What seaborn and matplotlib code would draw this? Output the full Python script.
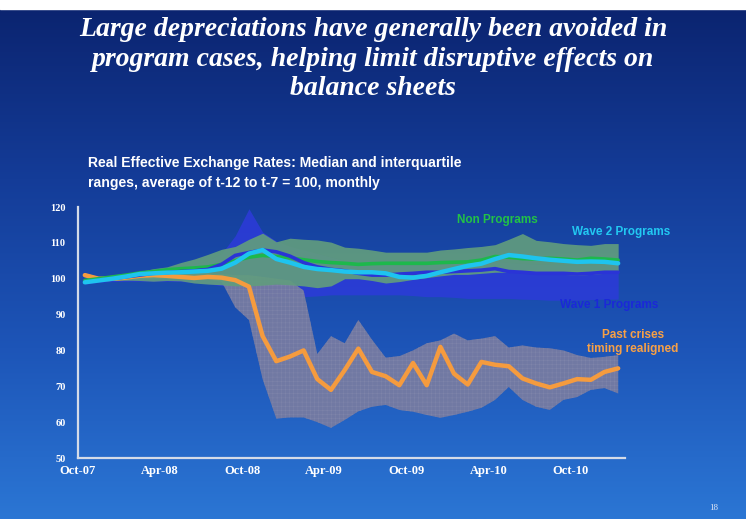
import numpy as np
import seaborn as sns
from matplotlib import pyplot as plt
from matplotlib.colors import LinearSegmentedColormap

# REER, average of t-12 to t-7 = 100, monthly from Oct-07
past_med = [101, 100, 100, 100.3, 100.8, 101, 100.8, 100.5, 100.2, 100.5, 100.3, 99.6, 97.8, 84, 77, 78.3, 80, 72,
            69, 74.5, 80.5, 74, 72.8, 70.3, 76.5, 70.3, 81, 73.5, 70.5, 76.8, 76, 75.6, 72.2, 70.8, 69.7, 70.8,
            72, 71.8, 74, 75]
past_hi = [101.5, 100.5, 100.3, 100.5, 101, 101.5, 101.5, 101.5, 101.5, 101.5, 101.3, 101, 101, 100.5, 100, 99.5,
           96.7, 79, 84, 82, 88.5, 83, 78, 78.4, 80, 82, 82.8, 84.7, 82.8, 83.3, 84, 80.8, 81.4, 80.8, 80.6, 80,
           78.7, 77.9, 78.2, 78.7]
past_lo = [100.5, 99.5, 99.5, 99.5, 99.8, 100, 100, 99.8, 99.8, 99.8, 99.2, 92, 88.5, 72, 61, 61.3, 61.3, 60, 58.4,
           60.6, 63, 64.3, 64.8, 63.4, 62.9, 62, 61.2, 62, 62.9, 64, 66.2, 69.8, 66.2, 64.3, 63.4, 66.2, 67, 69,
           69.5, 68]

non_med = [99.5, 100, 100.5, 101, 101.6, 102, 102.5, 102.8, 103, 103.3, 104, 105, 106, 106.5, 106.2, 105.8, 105.3,
           104.8, 104.5, 104.3, 104, 104.2, 104.3, 104.3, 104.3, 104.3, 104.5, 104.6, 104.7, 105.2, 106.2, 106,
           105.6, 105.5, 105.7, 105.5, 105.2, 105.7, 105.5, 105.2]
non_hi = [100, 100.5, 101, 101.5, 102, 102.8, 103.3, 104.5, 105.5, 106.8, 108.2, 109, 111, 112.7, 110.3, 111.3,
          111, 110.8, 110.2, 108.8, 108.5, 108, 107.4, 107.4, 107.4, 107.4, 108, 108.3, 108.7, 109, 109.5, 111,
          112.6, 110.7, 110.3, 109.8, 109.5, 109.3, 109.8, 109.8]
non_lo = [99, 99.2, 99.5, 99.6, 99.5, 99.3, 99.5, 99.4, 98.8, 98.5, 98.3, 98, 98, 98.2, 98.5, 98.3, 98, 97.5, 98,
          100, 100, 99.5, 98.8, 99.2, 99.8, 100.3, 100.8, 101.2, 101.2, 101.5, 101.8, 101.8, 101.8, 101.8, 101.8,
          101.2, 101, 101.2, 101.5, 101.8]

wave1_med = [99, 99.5, 100, 100.5, 101, 101.5, 101.7, 102, 102.2, 102.6, 104, 106.5, 107.3, 108, 107.5, 106.3,
             104.5, 103.3, 102.6, 102.2, 101.5, 101, 101, 101.3, 101.5, 101.8, 101.8, 102, 102.2, 102.4, 102.8,
             102, 101.8, 101.5, 101.5, 101.5, 101.3, 101.5, 101.8, 101.8]
wave1_hi = [100, 100.3, 100.8, 101.3, 101.8, 102.2, 102.8, 103.3, 104, 105, 107, 112, 119.5, 113, 110.5, 109, 108,
            107, 106, 105, 104.5, 104, 104, 103.8, 103.8, 103.8, 104, 104.2, 104.5, 104.5, 104.8, 104.5, 104.2,
            104, 104, 103.8, 103.8, 103.8, 104, 104]
wave1_lo = [98.5, 99, 99.2, 99.3, 99.3, 99.3, 99.3, 99.2, 99, 98.6, 98, 97.5, 96.5, 95.5, 95, 95, 95, 95.2, 95.5,
            95.5, 95.5, 95.5, 95.5, 95.5, 95.3, 95, 95, 94.8, 94.5, 94.5, 94.5, 94.5, 94.3, 94.2, 94, 94, 94,
            94.2, 94.3, 94.3]

wave2_med = [99, 99.5, 100, 100.6, 101.3, 101.5, 101.7, 101.8, 102, 102.2, 102.8, 104.5, 107, 108, 105.5, 104.5,
             103.3, 102.7, 102.4, 102, 101.8, 101.8, 101.5, 100.5, 100.3, 100.8, 101.8, 102.7, 103.6, 104.2,
             105.5, 106.6, 106.2, 105.7, 105.3, 105, 104.7, 104.8, 104.7, 104.3]

tick_labels = ['Oct-07', 'Apr-08', 'Oct-08', 'Apr-09', 'Oct-09', 'Apr-10', 'Oct-10']

x = np.arange(len(past_med)) + 0.5

sns.set_style('white')
plt.rcParams['hatch.color'] = '#8287ab'
plt.rcParams['hatch.linewidth'] = 0.3

fig = plt.figure(figsize=(7.46, 5.19), dpi=100)

#Slide background
bg = fig.add_axes([0, 0, 1, 1])
bg_cmap = LinearSegmentedColormap.from_list('slide', ['#0b2470', '#143c98', '#1d55b8', '#2b76d4'])
grad = np.linspace(0, 1, 256).reshape(-1, 1)
bg.imshow(grad, cmap=bg_cmap, aspect='auto', extent=(0, 1, 0, 0.983), origin='upper')
bg.axhspan(0.983, 1, color='white')
bg.set_xlim(0, 1)
bg.set_ylim(0, 1)
bg.axis('off')

#Chart
ax = fig.add_axes([78 / 746, 1 - 458 / 519, 547 / 746, 251 / 519])
ax.patch.set_alpha(0)

ax.fill_between(x, wave1_lo, wave1_hi, color='#2c3bd8', alpha=0.88, linewidth=0)
ax.fill_between(x, past_lo, past_hi, facecolor='#767ba2', edgecolor='#8287ab', hatch='++++', alpha=0.95, linewidth=0)
ax.fill_between(x, non_lo, non_hi, color='#619c7e', alpha=0.92, linewidth=0)

sns.lineplot(x=x, y=past_med, color='#f59b3e', linewidth=3.2, ax=ax)
sns.lineplot(x=x, y=non_med, color='#1db84c', linewidth=2.6, ax=ax)
sns.lineplot(x=x, y=wave1_med, color='#2a34d6', linewidth=2.6, ax=ax)
sns.lineplot(x=x, y=wave2_med, color='#1ec4ef', linewidth=3.2, ax=ax)

ax.set_xlim(0, 40)
ax.set_ylim(50, 120)
ax.set_yticks(range(50, 121, 10))
ax.set_xticks(range(0, 37, 6))
ax.set_xticklabels(tick_labels)
for s in ['top', 'right']:
    ax.spines[s].set_visible(False)
for s in ['left', 'bottom']:
    ax.spines[s].set_color('#d4dbe8')
    ax.spines[s].set_linewidth(1.6)
ax.tick_params(axis='y', direction='out', length=3, color='#d4dbe8', pad=6)
ax.tick_params(axis='x', direction='in', length=3, color='#d4dbe8', pad=5)
for lbl in ax.get_xticklabels() + ax.get_yticklabels():
    lbl.set_color('white')
    lbl.set_fontfamily('Liberation Serif')
    lbl.set_fontweight('bold')
    lbl.set_fontsize(9)
for lbl in ax.get_yticklabels():
    lbl.set_fontsize(7.5)

#Series labels
ax_text = dict(fontfamily=['Liberation Sans', 'DejaVu Sans'], fontweight='bold', fontsize=8.5)
fig.text(497 / 746, 1 - 220 / 519, 'Non Programs', color='#22c246', ha='center', va='center', **ax_text)
fig.text(572 / 746, 1 - 232 / 519, 'Wave 2 Programs', color='#22c8f2', ha='left', va='center', **ax_text)
fig.text(560 / 746, 1 - 305 / 519, 'Wave 1 Programs', color='#1b28d8', ha='left', va='center', **ax_text)
fig.text(633 / 746, 1 - 342 / 519, 'Past crises\ntiming realigned', color='#f7a046', ha='center', va='center',
         linespacing=1.15, **ax_text)

#Titles
fig.text(0.5, 1 - 59 / 519, 'Large depreciations have generally been avoided in\nprogram cases, helping limit disruptive effects on\nbalance sheets',
         color='white', ha='center', va='center', fontfamily='Liberation Serif', fontweight='bold',
         fontstyle='italic', fontsize=20, linespacing=1.22)
fig.text(88 / 746, 1 - 173 / 519, 'Real Effective Exchange Rates: Median and interquartile\nranges, average of t-12 to t-7 = 100, monthly',
         color='white', ha='left', va='center', fontfamily=['Liberation Sans', 'DejaVu Sans'],
         fontweight='bold', fontsize=10.1, linespacing=1.55)
fig.text(714 / 746, 1 - 508 / 519, '18', color='#dfe6f5', ha='center', va='center',
         fontfamily='Liberation Serif', fontsize=6.5)

plt.savefig('out.png', dpi=100)
